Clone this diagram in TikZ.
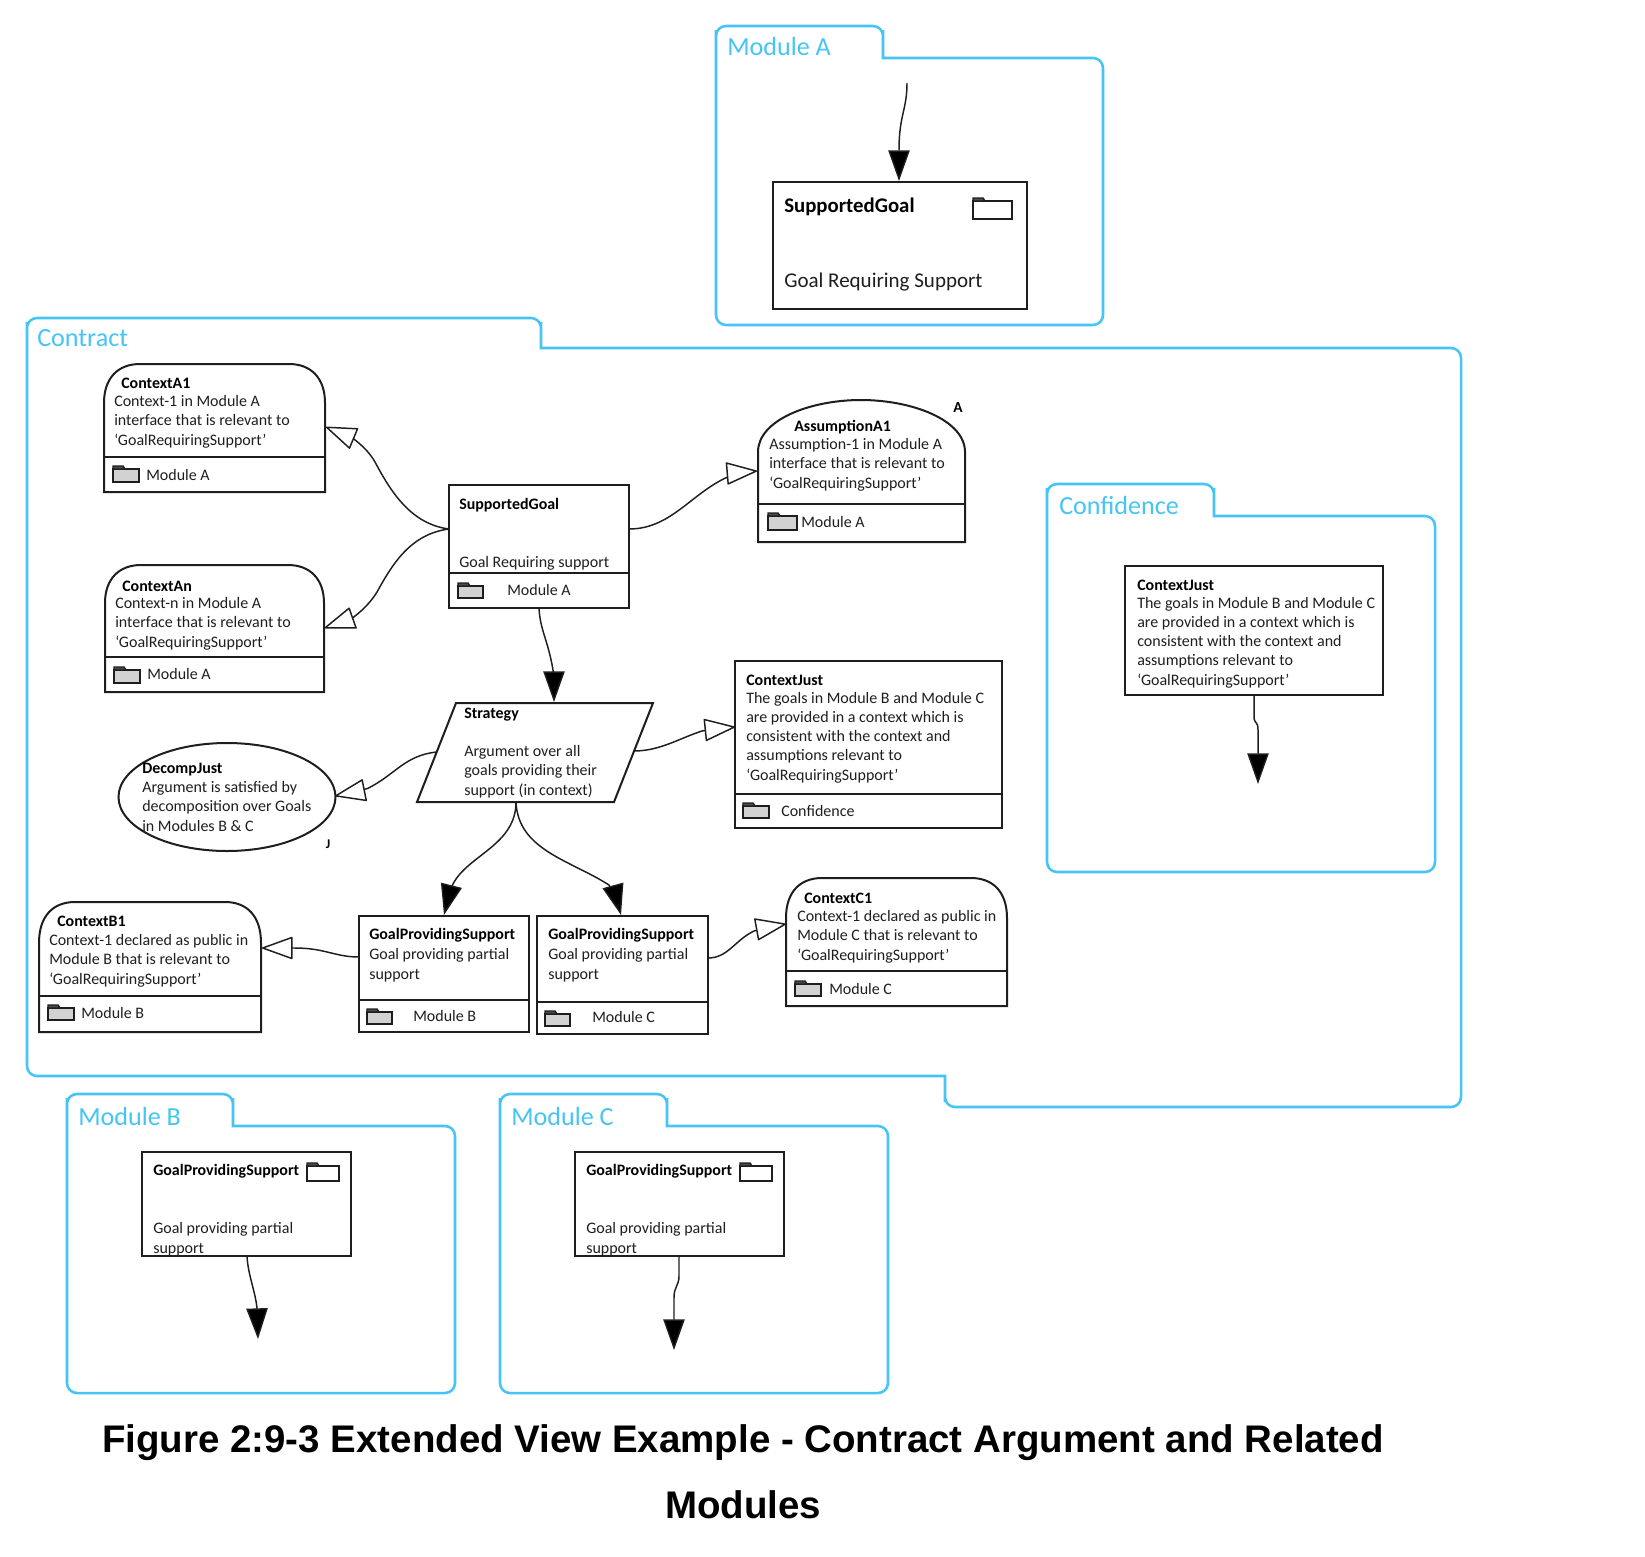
\documentclass[tikz,border=0pt]{standalone}
\usepackage{fontspec}
\setmainfont{Carlito}
\newfontfamily\capfont{Liberation Sans}
\usetikzlibrary{arrows.meta,shapes.geometric}
\definecolor{modblue}{HTML}{45C4F5}
\definecolor{inkc}{HTML}{1E1E1E}
\tikzset{
  x=0.75pt,y=-0.75pt,
  modline/.style={draw=modblue,line width=1.9pt},
  modlabel/.style={anchor=base west,inner sep=0pt,text=modblue,font=\fontsize{19.6}{22}\selectfont},
  gshape/.style={draw=inkc,line width=1.5pt,line join=miter},
  gbox/.style={gshape,rectangle,inner sep=0pt,outer sep=0pt},
  ghost/.style={inner sep=0pt,outer sep=0pt},
  ttl/.style={anchor=base west,inner sep=0pt,text=black,font=\fontsize{11.95}{15}\selectfont\bfseries},
  bodyt/.style={anchor=base west,inner sep=0pt,text=inkc,align=left,font=\fontsize{12}{14.3}\selectfont},
  bigttl/.style={anchor=base west,inner sep=0pt,text=black,font=\fontsize{15.6}{18}\selectfont\bfseries},
  bigbody/.style={anchor=base west,inner sep=0pt,text=inkc,font=\fontsize{15.75}{18}\selectfont},
  captiont/.style={anchor=base,inner sep=0pt,text=black,font=\fontsize{28.85}{32}\capfont\bfseries},
  conn/.style={draw=inkc,line width=1.1pt},
  solidhead/.style={conn,-{Triangle[length=23pt,width=16pt,fill=black]}},
  openhead/.style={conn,-{Triangle[length=24pt,width=17pt,fill=white,line width=1.1pt,round]}},
}
% rectangular box as a node
\newcommand{\rboxn}[5]{\node[gbox,minimum width={(#4-#2)*0.75pt},minimum height={(#5-#3)*0.75pt}] (#1) at ({(#2+#4)/2},{(#3+#5)/2}) {};}
% folder icon: x, y tab top, width, height of body, fill
\newcommand{\ficon}[5]{\draw[draw=inkc,line width=1.1pt,fill=#5] (#1,#2+3) rectangle (#1+#3,#2+3+#4);
  \draw[draw=inkc,line width=1.1pt,fill=gray!60!black] (#1,#2+3) -- (#1,#2) -- (#1+10,#2) -- (#1+12,#2+3) -- cycle;}
% module folder outline: x1, top, tab right, body top, x2, bottom
\newcommand{\modf}[6]{\draw[modline,rounded corners=7.5pt] (#1,#2+14) -- (#1,#2) -- (#3,#2) -- (#3,#2+14) [sharp corners] -- (#3,#4) -- (#3+14,#4) [rounded corners=7.5pt] -- (#5,#4) -- (#5,#6) -- (#1,#6) -- cycle;}
% context shape with rounded shoulders: name, x1, x2, top, shoulder, bottom, divider
\newcommand{\ctxs}[7]{\node[ghost,minimum width={(#3-#2)*0.75pt},minimum height={(#6-#4)*0.75pt}] (#1) at ({(#2+#3)/2},{(#4+#6)/2}) {};
  \draw[gshape] (#2,#6) -- (#2,#5) .. controls (#2,#4+14) and (#2+14,#4) .. (#2+36,#4) -- (#3-36,#4) .. controls (#3-14,#4) and (#3,#4+14) .. (#3,#5) -- (#3,#6) -- cycle;
  \draw[gshape] (#2,#7) -- (#3,#7);}
\begin{document}
\begin{tikzpicture}
\useasboundingbox (0,0) rectangle (1645,1556);

% ---------- module folders
\modf{716}{26}{883}{58}{1103}{325}
\node[modlabel] (lblA) at (727,55) {Module A};
\draw[modline,rounded corners=7.5pt] (27,332) -- (27,318) -- (541,318) -- (541,332) [sharp corners] -- (541,348) -- (555,348) [rounded corners=7.5pt] -- (1461,348) -- (1461,1107) -- (945,1107) -- (945,1092) [sharp corners] -- (945,1076) -- (930,1076) [rounded corners=7.5pt] -- (27,1076) -- cycle;
\node[modlabel] (lblContract) at (37,346) {Contract};
\modf{1047}{484}{1214}{516}{1435}{872}
\node[modlabel] (lblConf) at (1059,514) {Confidence};
\modf{67}{1094}{233}{1126}{455}{1393}
\node[modlabel] (lblB) at (78,1125) {Module B};
\modf{500}{1094}{667}{1126}{888}{1393}
\node[modlabel] (lblC) at (511,1125) {Module C};

% ---------- Module A content
\rboxn{sgA}{773}{182}{1027}{309}
\node[bigttl] (sgAt) at (784,212) {SupportedGoal};
\node[bigbody] (sgAb) at (784,287) {Goal Requiring Support};
\ficon{973}{198}{39}{18}{white}
\coordinate (freeA) at (907,83);
\coordinate (tipA) at (899,181);
\draw[solidhead] (freeA) .. controls (907,110) and (899,115) .. (899,150) -- (tipA);

% ---------- Contract content
\ctxs{ca1}{104}{325}{364}{403}{492}{457}
\node[ttl] (ca1t) at (121,388) {ContextA1};
\node[bodyt] (ca1b) at (114,445) {Context-1 in Module A\\interface that is relevant to\\‘GoalRequiringSupport’};
\ficon{113}{466}{26}{13}{gray!35}
\node[bodyt] (ca1m) at (146,480) {Module A};

\ctxs{can}{105}{324}{565}{603}{692}{657}
\node[ttl] (cant) at (122,591) {ContextAn};
\node[bodyt] (canb) at (115,647) {Context-n in Module A\\interface that is relevant to\\‘GoalRequiringSupport’};
\ficon{114}{667}{26}{13}{gray!35}
\node[bodyt] (canm) at (147,679) {Module A};

\rboxn{sg}{449}{485}{629}{608}
\draw[gshape] (sg.west |- 0,573) -- (sg.east |- 0,573);
\node[ttl] (sgt) at (459,509) {SupportedGoal};
\node[bodyt] (sgb) at (459,567) {Goal Requiring support};
\ficon{458}{583}{25}{12}{gray!35}
\node[bodyt] (sgm) at (507,595) {Module A};

\node[ghost,minimum width={207*0.75pt},minimum height={142*0.75pt}] (asm) at (861.5,471) {};
\draw[gshape] (758,542) -- (758,452) .. controls (758,420) and (810,400) .. (861,400) .. controls (912,400) and (965,420) .. (965,452) -- (965,542) -- cycle;
\draw[gshape] (758,504) -- (965,504);
\node[ttl] (asmt) at (794,431) {AssumptionA1};
\node[bodyt] (asmb) at (769,488) {Assumption-1 in Module A\\interface that is relevant to\\‘GoalRequiringSupport’};
\ficon{768}{513}{29}{14}{gray!35}
\node[bodyt] (asmm) at (801,527) {Module A};
\node[ttl,anchor=center,font=\fontsize{11.5}{12}\selectfont\bfseries] (asmA) at (958,408) {A};

\rboxn{cj}{735}{661}{1002}{828}
\draw[gshape] (735,794) -- (1002,794);
\node[ttl] (cjt) at (746,685) {ContextJust};
\node[bodyt] (cjb) at (746,780) {The goals in Module B and Module C\\are provided in a context which is\\consistent with the context and\\assumptions relevant to\\‘GoalRequiringSupport’};
\ficon{743}{803}{26}{12}{gray!35}
\node[bodyt] (cjm) at (781,816) {Confidence};

\node[ghost,minimum width={236*0.75pt},minimum height={99*0.75pt}] (str) at (535,752.5) {};
\draw[gshape] (456,703) -- (653,703) -- (614,802) -- (417,802) -- cycle;
\node[ttl] (strt) at (464,718) {Strategy};
\node[bodyt] (strb) at (464,795) {Argument over all\\goals providing their\\support (in context)};

\node[gshape,ellipse,inner sep=0pt,minimum width={217*0.75pt},minimum height={108*0.75pt}] (dj) at (227,797) {};
\node[ttl] (djt) at (142,773) {DecompJust};
\node[bodyt] (djb) at (142,831) {Argument is satisfied by\\decomposition over Goals\\in Modules B \& C};
\node[ttl,anchor=center,font=\fontsize{10}{11}\selectfont\bfseries] (djJ) at (328,844) {J};

\ctxs{cb1}{39}{261}{902}{943}{1032}{996}
\node[ttl] (cb1t) at (57,926) {ContextB1};
\node[bodyt] (cb1b) at (49,984) {Context-1 declared as public in\\Module B that is relevant to\\‘GoalRequiringSupport’};
\ficon{48}{1005}{26}{12}{gray!35}
\node[bodyt] (cb1m) at (81,1018) {Module B};

\rboxn{gb}{359}{916}{529}{1032}
\draw[gshape] (359,1000) -- (529,1000);
\node[ttl] (gbt) at (369,939) {GoalProvidingSupport};
\node[bodyt] (gbb) at (369,979) {Goal providing partial\\support};
\ficon{367}{1009}{25}{12}{gray!35}
\node[bodyt] (gbm) at (413,1021) {Module B};

\rboxn{gc}{537}{916}{708}{1034}
\draw[gshape] (537,1002) -- (708,1002);
\node[ttl] (gct) at (548,939) {GoalProvidingSupport};
\node[bodyt] (gcb) at (548,979) {Goal providing partial\\support};
\ficon{545}{1011}{25}{12}{gray!35}
\node[bodyt] (gcm) at (592,1022) {Module C};

\ctxs{cc1}{786}{1007}{878}{918}{1006}{971}
\node[ttl] (cc1t) at (804,903) {ContextC1};
\node[bodyt] (cc1b) at (797,960) {Context-1 declared as public in\\Module C that is relevant to\\‘GoalRequiringSupport’};
\ficon{795}{981}{26}{12}{gray!35}
\node[bodyt] (cc1m) at (829,994) {Module C};

% connector ends
\coordinate (sgL) at (449,529);
\coordinate (sgR) at (629,529);
\coordinate (sgB) at (539,608);
\coordinate (ca1E) at (326,427);
\coordinate (canE) at (324.5,628);
\coordinate (asmW) at (757,471);
\coordinate (cjW) at (735,727);
\coordinate (strR) at (634,751);
\coordinate (strL) at (437,752);
\coordinate (strT) at (554,702);
\coordinate (strB) at (516,802);
\coordinate (djE) at (335,796);
\coordinate (gbT) at (444,915);
\coordinate (gcT) at (621,915);
\coordinate (gbL) at (359,957);
\coordinate (cb1E) at (262,948);
\coordinate (gcR) at (708,958);
\coordinate (cc1W) at (786,924);

\draw[openhead] (sgL) .. controls (410,524) and (390,490) .. (375,462) .. controls (366,446) and (350,437) .. (ca1E);
\draw[openhead] (sgL) .. controls (410,534) and (392,565) .. (377,592) .. controls (366,610) and (350,619) .. (canE);
\draw[openhead] (sgR) .. controls (670,529) and (690,495) .. (725.5,478) .. controls (735,474) and (745,472) .. (asmW);
\draw[openhead] (strR) .. controls (660,751) and (680,738) .. (702,731) .. controls (712,729) and (725,728) .. (cjW);
\draw[openhead] (strL) .. controls (405,755) and (395,775) .. (367.5,788.5) .. controls (358,791) and (345,794) .. (djE);
\draw[solidhead] (sgB) .. controls (540,630) and (548,640) .. (553,670) .. controls (554,680) and (554,690) .. (strT);
\draw[solidhead] (strB) .. controls (516,845) and (468,855) .. (453,884) .. controls (449,893) and (447,903) .. (gbT);
\draw[solidhead] (strB) .. controls (518,850) and (570,860) .. (609,885) .. controls (614,893) and (618,904) .. (gcT);
\draw[openhead] (gbL) .. controls (335,957) and (325,948) .. (295,948) -- (cb1E);
\draw[openhead] (gcR) .. controls (728,958) and (735,940) .. (754,931) .. controls (764,928) and (775,926) .. (cc1W);

% ---------- Confidence content
\rboxn{cj2}{1125}{566}{1383}{695}
\node[ttl] (cj2t) at (1137,590) {ContextJust};
\node[bodyt] (cj2b) at (1137,685) {The goals in Module B and Module C\\are provided in a context which is\\consistent with the context and\\assumptions relevant to\\‘GoalRequiringSupport’};
\coordinate (cj2B) at (1254,695);
\coordinate (tipConf) at (1258,784);
\draw[solidhead] (cj2B) -- (1254,716) .. controls (1254,725) and (1258,720) .. (1258,730) -- (tipConf);

% ---------- Module B content
\rboxn{mb}{142}{1152}{351}{1256}
\node[ttl] (mbt) at (153,1175) {GoalProvidingSupport};
\node[bodyt] (mbb) at (153,1253) {Goal providing partial\\support};
\ficon{307}{1163}{32}{15}{white}
\coordinate (mbB) at (247,1256);
\coordinate (tipB) at (258,1339);
\draw[solidhead] (mbB) .. controls (248,1275) and (255,1290) .. (257,1308) -- (tipB);

% ---------- Module C content
\rboxn{mc}{575}{1152}{784}{1256}
\node[ttl] (mct) at (586,1175) {GoalProvidingSupport};
\node[bodyt] (mcb) at (586,1253) {Goal providing partial\\support};
\ficon{740}{1163}{32}{15}{white}
\coordinate (mcB) at (679,1256);
\coordinate (tipC) at (674,1350);
\draw[solidhead] (mcB) -- (679,1276) .. controls (679,1286) and (674,1286) .. (674,1298) -- (tipC);

% ---------- caption
\node[captiont] (cap1) at (743,1452) {Figure 2:9-3 Extended View Example - Contract Argument and Related};
\node[captiont] (cap2) at (743,1518) {Modules};
\end{tikzpicture}
\end{document}
